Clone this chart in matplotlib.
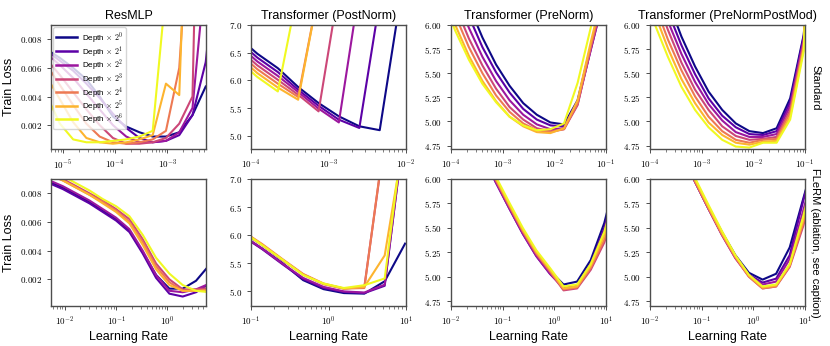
import numpy as np
import matplotlib
matplotlib.use('Agg')
import matplotlib.pyplot as plt
from matplotlib.ticker import FuncFormatter, FixedLocator, LogLocator, NullFormatter

plt.rcParams['font.family'] = ['Liberation Sans', 'DejaVu Sans']
plt.rcParams['mathtext.fontset'] = 'cm'

depth_exp = [0, 1, 2, 3, 4, 5, 6]
titles = ['ResMLP', 'Transformer (PostNorm)', 'Transformer (PreNorm)',
          'Transformer (PreNormPostMod)']
row_names = ['Standard', 'FLeRM (ablation, see caption)']

# ---- top row: standard parametrisation ----
lr_mlp = [4.86e-6, 8.73e-6, 1.57e-5, 2.81e-5, 5.05e-5, 9.06e-5, 1.63e-4, 2.92e-4,
          5.24e-4, 9.4e-4, 1.69e-3, 3.03e-3, 5.43e-3, 9.75e-3]
loss_mlp = [
    [0.0073, 0.0067, 0.0060, 0.0052, 0.0040, 0.0026, 0.0019, 0.0015, 0.0012, 0.0012, 0.0015, 0.0027, 0.0047],
    [0.0072, 0.0065, 0.0058, 0.0049, 0.0039, 0.0028, 0.0018, 0.0011, 0.0008, 0.0009, 0.0013, 0.0027, 0.0064, 0.015],
    [0.0070, 0.0062, 0.0053, 0.0042, 0.0031, 0.0020, 0.0012, 0.0008, 0.0008, 0.0009, 0.0015, 0.0032, 0.013],
    [0.0066, 0.0055, 0.0043, 0.0031, 0.0020, 0.0011, 0.0007, 0.0007, 0.0008, 0.0011, 0.0021, 0.0040, 0.045],
    [0.0062, 0.0048, 0.0034, 0.0021, 0.0012, 0.0008, 0.0007, 0.0008, 0.0010, 0.0016, 0.0060, 0.02],
    [0.0054, 0.0038, 0.0022, 0.0011, 0.0008, 0.0007, 0.0008, 0.0010, 0.0013, 0.0049, 0.0041, 0.03],
    [0.0041, 0.0021, 0.0010, 0.0008, 0.0008, 0.0009, 0.0010, 0.0012, 0.0016, 0.0115],
]

lr_tf = [6.61e-5, 1.21e-4, 2.22e-4, 4.06e-4, 7.45e-4, 1.36e-3, 2.50e-3, 4.58e-3,
         8.39e-3, 1.54e-2, 2.82e-2, 5.16e-2, 9.46e-2, 0.173]
loss_post = [
    [6.80, 6.48, 6.22, 5.88, 5.59, 5.35, 5.17, 5.10, 7.44],
    [6.73, 6.41, 6.15, 5.83, 5.54, 5.29, 5.14, 7.44],
    [6.66, 6.34, 6.08, 5.79, 5.49, 5.24, 7.65],
    [6.59, 6.27, 6.01, 5.74, 5.44, 7.67],
    [6.52, 6.20, 5.94, 5.70, 7.60],
    [6.45, 6.13, 5.87, 5.65, 7.60],
    [6.38, 6.06, 5.80, 7.65],
]
loss_pre = [
    [7.01, 6.58, 6.20, 5.87, 5.59, 5.37, 5.19, 5.07, 4.99, 4.97, 5.22, 5.80, 6.35],
    [6.87, 6.46, 6.09, 5.77, 5.51, 5.30, 5.13, 5.02, 4.96, 4.95, 5.20, 5.76, 6.32],
    [6.73, 6.32, 5.97, 5.67, 5.42, 5.22, 5.07, 4.97, 4.92, 4.93, 5.18, 5.76, 6.32],
    [6.59, 6.20, 5.86, 5.58, 5.34, 5.15, 5.02, 4.93, 4.90, 4.92, 5.17, 5.78, 6.35],
    [6.48, 6.10, 5.77, 5.50, 5.27, 5.10, 4.98, 4.91, 4.89, 4.92, 5.19, 5.80, 6.38],
    [6.36, 6.00, 5.68, 5.42, 5.21, 5.05, 4.95, 4.89, 4.88, 4.93, 5.22, 5.84, 6.42],
    [6.29, 5.94, 5.64, 5.39, 5.20, 5.05, 4.96, 4.91, 4.92, 4.98, 5.40, 5.99, 6.52],
]
loss_postmod = [
    [7.16, 6.67, 6.25, 5.88, 5.57, 5.31, 5.12, 4.98, 4.90, 4.88, 4.93, 5.24, 5.90, 7.9],
    [7.03, 6.56, 6.14, 5.79, 5.49, 5.24, 5.06, 4.94, 4.87, 4.86, 4.90, 5.20, 5.88, 8.0],
    [6.91, 6.45, 6.04, 5.70, 5.41, 5.18, 5.01, 4.89, 4.84, 4.84, 4.87, 5.16, 5.85, 8.2],
    [6.79, 6.34, 5.95, 5.61, 5.33, 5.12, 4.95, 4.85, 4.81, 4.82, 4.84, 5.12, 5.82, 8.5],
    [6.67, 6.23, 5.85, 5.53, 5.26, 5.05, 4.90, 4.81, 4.78, 4.81, 4.82, 5.09, 5.79, 8.8],
    [6.56, 6.13, 5.76, 5.44, 5.19, 4.99, 4.86, 4.78, 4.76, 4.79, 4.80, 5.05, 5.76, 9.2],
    [6.44, 6.02, 5.67, 5.36, 5.12, 4.94, 4.81, 4.74, 4.73, 4.78, 4.78, 5.02, 5.73, 9.9],
]

# ---- bottom row: FLeRM ----
lr_mlp_f = [5.01e-3, 9.12e-3, 1.66e-2, 3.02e-2, 5.50e-2, 0.1, 0.182, 0.331, 0.603,
            1.096, 1.995, 3.63, 6.61]
loss_mlp_f = [
    [0.0088, 0.0084, 0.0079, 0.0074, 0.0068, 0.0062, 0.0054, 0.0039, 0.0023, 0.00135, 0.00135, 0.0019, 0.0030],
    [0.0087, 0.0083, 0.0078, 0.0073, 0.0067, 0.0061, 0.0053, 0.0038, 0.0021, 0.0010, 0.0008, 0.0011, 0.0017],
    [0.0089, 0.0085, 0.0080, 0.0075, 0.0069, 0.0063, 0.0055, 0.0040, 0.0023, 0.0012, 0.0011, 0.0013, 0.0017],
    [0.0094, 0.0090, 0.0085, 0.0080, 0.0075, 0.0069, 0.0062, 0.0048, 0.0031, 0.0020, 0.0013, 0.0013, 0.0014],
    [0.0093, 0.0089, 0.0084, 0.0079, 0.0074, 0.0068, 0.0060, 0.0046, 0.0029, 0.0018, 0.0012, 0.0012, 0.0013],
    [0.0093, 0.0089, 0.0084, 0.0079, 0.0073, 0.0067, 0.0059, 0.0044, 0.0027, 0.0016, 0.0012, 0.0012, 0.0012],
    [0.0096, 0.0092, 0.0087, 0.0082, 0.0076, 0.0071, 0.0064, 0.0051, 0.0035, 0.0024, 0.0016, 0.0012, 0.0011],
]

lr_post_f = [0.0766, 0.140, 0.257, 0.471, 0.863, 1.58, 2.90, 5.31, 9.73]
loss_post_f = [
    [6.00, 5.76, 5.50, 5.20, 5.04, 4.97, 4.96, 5.18, 5.85],
    [5.99, 5.75, 5.48, 5.22, 5.06, 4.99, 4.97, 5.10, 8.0],
    [6.00, 5.76, 5.49, 5.24, 5.08, 5.00, 4.98, 5.12, 8.0],
    [6.06, 5.82, 5.55, 5.30, 5.13, 5.05, 5.08, 7.71],
    [6.08, 5.84, 5.57, 5.31, 5.14, 5.05, 5.06, 7.75],
    [6.08, 5.83, 5.56, 5.30, 5.13, 5.05, 5.08, 5.64, 7.83],
    [6.07, 5.82, 5.56, 5.29, 5.14, 5.06, 5.11, 5.23, 8.08],
]

lr_tf_f = [0.0398, 0.0729, 0.134, 0.245, 0.449, 0.822, 1.51, 2.76, 5.06, 9.27, 17.0]
loss_pre_f = [
    [6.30, 6.00, 5.73, 5.47, 5.24, 5.06, 4.92, 4.95, 5.17, 5.55, 6.10],
    [6.27, 5.97, 5.70, 5.44, 5.21, 5.03, 4.89, 4.91, 5.13, 5.50, 6.00],
    [6.27, 5.97, 5.70, 5.44, 5.21, 5.03, 4.88, 4.90, 5.10, 5.45, 5.95],
    [6.29, 5.99, 5.72, 5.46, 5.23, 5.05, 4.86, 4.88, 5.07, 5.35, 5.80],
    [6.30, 6.00, 5.73, 5.47, 5.24, 5.06, 4.87, 4.89, 5.09, 5.38, 5.85],
    [6.31, 6.01, 5.74, 5.48, 5.25, 5.07, 4.88, 4.90, 5.11, 5.42, 5.90],
    [6.33, 6.03, 5.76, 5.50, 5.27, 5.09, 4.90, 4.92, 5.13, 5.46, 5.95],
]
loss_postmod_f = [
    [6.30, 6.00, 5.72, 5.46, 5.22, 5.04, 4.97, 5.03, 5.30, 5.80, 6.30],
    [6.28, 5.98, 5.70, 5.44, 5.20, 5.02, 4.94, 4.98, 5.22, 5.78, 6.30],
    [6.28, 5.98, 5.70, 5.43, 5.19, 5.01, 4.92, 4.95, 5.18, 5.68, 6.20],
    [6.28, 5.98, 5.70, 5.43, 5.19, 5.00, 4.88, 4.90, 5.10, 5.52, 6.10],
    [6.29, 5.99, 5.71, 5.44, 5.20, 5.00, 4.88, 4.90, 5.11, 5.55, 6.10],
    [6.30, 6.00, 5.72, 5.45, 5.21, 5.01, 4.89, 4.91, 5.12, 5.58, 6.10],
    [6.32, 6.02, 5.74, 5.47, 5.22, 5.02, 4.90, 4.92, 5.13, 5.62, 6.20],
]

colors = plt.cm.plasma(np.linspace(0, 1, len(depth_exp)))

# (row, col, lr, losses, xlim, ylim, yticks, y decimals)
panels = [
    (0, 0, lr_mlp, loss_mlp, (5.9e-6, 5.5e-3), (0.00033, 0.009), [0.002, 0.004, 0.006, 0.008], 3),
    (0, 1, lr_tf, loss_post, (1e-4, 1e-2), (4.76, 7.0), [5.0, 5.5, 6.0, 6.5, 7.0], 1),
    (0, 2, lr_tf, loss_pre, (1e-4, 1e-1), (4.715, 6.0), [4.75, 5.0, 5.25, 5.5, 5.75, 6.0], 2),
    (0, 3, lr_tf, loss_postmod, (1e-4, 1e-1), (4.715, 6.0), [4.75, 5.0, 5.25, 5.5, 5.75, 6.0], 2),
    (1, 0, lr_mlp_f, loss_mlp_f, (5.37e-3, 5.68), (0.00014, 0.009), [0.002, 0.004, 0.006, 0.008], 3),
    (1, 1, lr_post_f, loss_post_f, (1e-1, 1e1), (4.74, 7.0), [5.0, 5.5, 6.0, 6.5, 7.0], 1),
    (1, 2, lr_tf_f, loss_pre_f, (1e-2, 1e1), (4.70, 6.0), [4.75, 5.0, 5.25, 5.5, 5.75, 6.0], 2),
    (1, 3, lr_tf_f, loss_postmod_f, (1e-2, 1e1), (4.70, 6.0), [4.75, 5.0, 5.25, 5.5, 5.75, 6.0], 2),
]

W, H = 830, 346
col_left = [51, 251, 451, 650]
col_w = 155
row_top = [25, 179]
row_h = [124, 127]

fig = plt.figure(figsize=(W / 100, H / 100), dpi=100)


def log_fmt(v, pos):
    return r'$10^{%d}$' % int(round(np.log10(v)))


for r, c, lr, losses, xlim, ylim, yticks, dec in panels:
    ax = fig.add_axes([col_left[c] / W, 1 - (row_top[r] + row_h[r]) / H,
                       col_w / W, row_h[r] / H])
    for i, ys in enumerate(losses):
        ax.plot(lr[:len(ys)], ys, color=colors[i], lw=1.5,
                label=r'Depth $\times$ $2^{%d}$' % depth_exp[i])
    ax.set_xscale('log')
    ax.set_xlim(*xlim)
    ax.set_ylim(*ylim)
    ax.xaxis.set_major_locator(LogLocator(base=10, numticks=10))
    ax.xaxis.set_major_formatter(FuncFormatter(log_fmt))
    ax.xaxis.set_minor_locator(LogLocator(base=10, subs=np.arange(2, 10), numticks=20))
    ax.xaxis.set_minor_formatter(NullFormatter())
    ax.yaxis.set_major_locator(FixedLocator(yticks))
    ax.yaxis.set_major_formatter(FuncFormatter(lambda v, p, d=dec: r'$%.*f$' % (d, v)))
    ax.tick_params(which='major', labelsize=6.5, length=3, width=0.7, color='0.3')
    ax.tick_params(which='minor', length=1.8, width=0.5, color='0.3')
    for s in ax.spines.values():
        s.set_color('0.3')
        s.set_linewidth(1.0)
    if r == 0:
        ax.set_title(titles[c], fontsize=9, pad=4)
    else:
        ax.set_xlabel('Learning Rate', fontsize=9, labelpad=2)
    if c == 0:
        ax.set_ylabel('Train Loss', fontsize=9, labelpad=3)
    if r == 0 and c == 0:
        leg = ax.legend(loc='upper left', fontsize=5.8, handlelength=2.6,
                        labelspacing=-0.15, borderpad=0.35, framealpha=0.8,
                        borderaxespad=0.3, handletextpad=0.6)
        for ln in leg.get_lines():
            ln.set_linewidth(1.8)

fig.text(815 / W, 1 - 88 / H, row_names[0], rotation=270, ha='center', va='center', fontsize=8)
fig.text(815 / W, 1 - 243 / H, row_names[1], rotation=270, ha='center', va='center', fontsize=8)

fig.savefig('out.png', dpi=100)
